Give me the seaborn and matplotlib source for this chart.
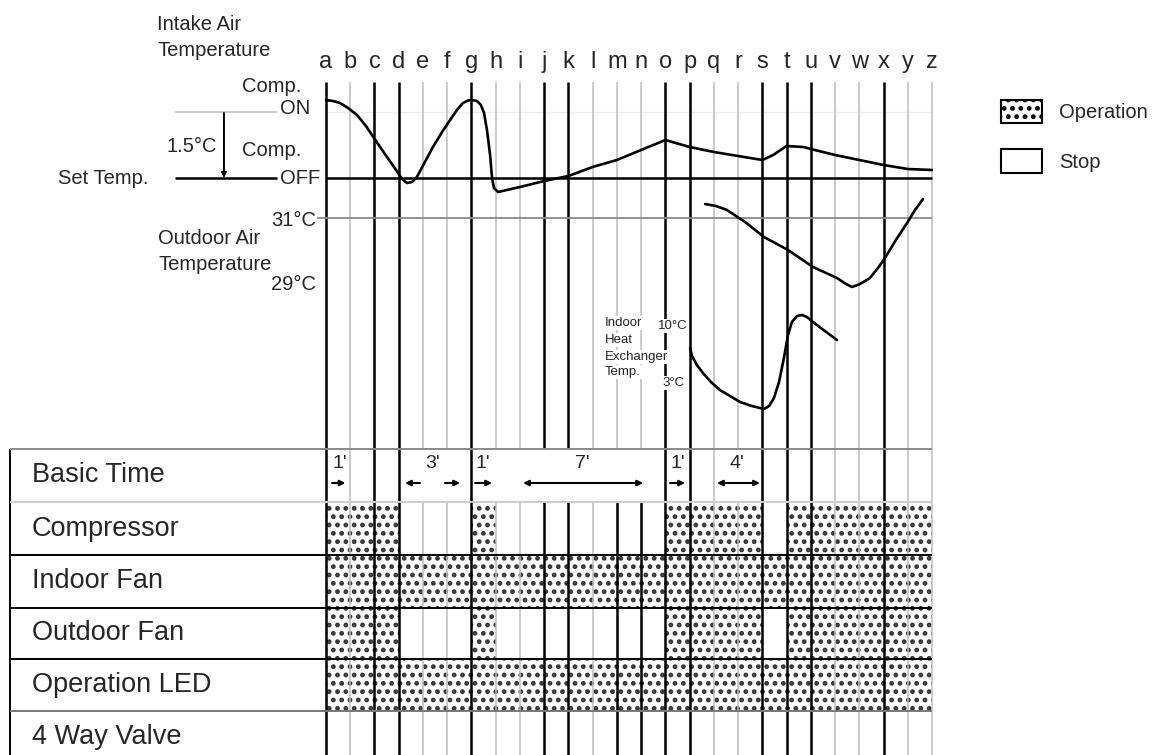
import numpy as np
import pandas as pd
import matplotlib.pyplot as plt
import seaborn as sns
from matplotlib.patches import Patch

# time steps a..z (one step per letter)
letters = list('abcdefghijklmnopqrstuvwxyz')
thick_top = ['a', 'c', 'd', 'g', 'j', 'k', 'o', 'p', 's', 't', 'u', 'x']
thick_table = thick_top + ['m', 'n']
basic_row_lines = ['a', 'b', 'c', 'd', 'g', 'o', 'p', 'q', 's', 't', 'u', 'v', 'w', 'x', 'y', 'z']

# curves: x in letter steps, y in chart level (top = 0, downwards)
intake_t = [0, 0.29, 0.58, 0.91, 1.28, 1.65, 1.98, 2.43, 2.89, 3.14, 3.34, 3.55, 3.75, 4.08,
            4.41, 4.79, 5.12, 5.40, 5.65, 5.86, 6.02, 6.23, 6.39, 6.52, 6.64, 6.77, 6.85, 6.93,
            7.1, 8, 9, 10, 11, 12, 13, 14, 15, 16, 17, 18, 18.45, 19, 19.7, 20, 21, 22, 23, 24, 25]
intake_level = [100, 101, 103, 108, 115, 126, 138, 154, 170, 179, 183, 182, 177, 162,
                147, 132, 120, 110, 103, 100.5, 100, 101, 105, 113, 130, 155, 178, 188,
                192, 187, 181, 176, 167, 160, 150, 140, 147, 152, 156, 160, 155, 146, 147, 149,
                155, 160, 165, 169, 170]
outdoor_t = [15.64, 16.09, 16.54, 17.29, 18.07, 19.06, 20.09, 21.08, 21.45, 21.7, 22.03,
             22.44, 22.77, 23.06, 23.51, 23.97, 24.30, 24.63]
outdoor_level = [204, 206, 210, 222, 237, 250, 267, 278, 284, 287, 284, 278, 268, 258, 240,
                 223, 210, 199]
hex_t = [15.02, 15.1, 15.3, 15.55, 15.88, 16.25, 16.67, 17.08, 17.57, 18.07, 18.28, 18.48,
         18.69, 18.89, 19.06, 19.22, 19.43, 19.64, 19.84, 20.09, 20.58, 21.08]
hex_level = [348, 356, 365, 373, 382, 390, 396, 402, 406, 409, 406, 398, 382, 358, 335, 322,
             316, 315, 317, 322, 331, 340]

# table rows and operation periods
rows = ['Basic Time', 'Compressor', 'Indoor Fan', 'Outdoor Fan', 'Operation LED', '4 Way Valve']
row_edges = [449, 502, 555, 608, 659, 711, 763]
compressor_on = [('a', 'd'), ('g', 'h'), ('o', 's'), ('t', 'z')]
indoor_fan_on = [('a', 'z')]
outdoor_fan_on = [('a', 'd'), ('g', 'h'), ('o', 's'), ('t', 'z')]
led_on = [('a', 'z')]
valve_on = []

basic_labels = ["1'", "3'", "1'", "7'", "1'", "4'"]
basic_label_t = [0.58, 4.41, 6.48, 10.56, 14.52, 16.96]

sns.set_style('white')
plt.rcParams['font.family'] = ['Liberation Sans', 'DejaVu Sans']
plt.rcParams['hatch.linewidth'] = 2.2

STEP = 24.24   # px per letter
X0 = 326
fig = plt.figure(figsize=(11.55, 7.55), dpi=100)
ax = fig.add_axes([0, 0, 1, 1])

pos = {L: i for i, L in enumerate(letters)}
light = '#bdbdbd'
HATCH = '..'

# operation hatching
for name, periods in zip(rows[1:], [compressor_on, indoor_fan_on, outdoor_fan_on, led_on, valve_on]):
    r = rows.index(name)
    spans = [(pos[s], pos[e] - pos[s]) for s, e in periods]
    if spans:
        ax.broken_barh(spans, (row_edges[r], row_edges[r + 1] - row_edges[r]),
                       facecolor='white', edgecolor='#333333', hatch=HATCH, linewidth=0, zorder=1)

# vertical time lines
for L in letters:
    x = pos[L]
    top_thick = L in thick_top
    ax.vlines(x, 82, row_edges[0], colors='black' if top_thick else light,
              linewidths=1.8 if top_thick else 1.1, zorder=3)
    tab_thick = L in thick_table
    if L in basic_row_lines:
        ax.vlines(x, row_edges[0], row_edges[1], colors='black' if tab_thick else light,
                  linewidths=1.8 if tab_thick else 1.1, zorder=3)
    ax.vlines(x, row_edges[1], 755, colors='black' if tab_thick else light,
              linewidths=1.8 if tab_thick else 1.1, zorder=3)
    ax.text(x, 62, L, ha='center', va='center', fontsize=17)

# table grid
left = -13.04
row_colors = ['#8a8a8a', '#cccccc', 'black', 'black', 'black', '#777777']
for y, c in zip(row_edges[:-1], row_colors):
    ax.hlines(y, left, 25, colors=c, linewidths=1.4, zorder=3)
ax.vlines(left, row_edges[0], 755, colors='black', linewidths=1.4)
for name, y0, y1 in zip(rows, row_edges[:-1], row_edges[1:]):
    ax.text(-12.13, (y0 + y1) / 2, name, ha='left', va='center', fontsize=19.5)

# reference levels
ax.hlines(112, -6.23, -2.02, colors='#c0c0c0', linewidths=1.2)
ax.hlines(112, 0, 25, colors='#ececec', linewidths=1.0)
ax.hlines(178, -6.23, -2.02, colors='black', linewidths=1.8)
ax.hlines(178, 0, 25, colors='black', linewidths=1.8, zorder=3)
ax.hlines(218, -0.37, 25, colors='#8a8a8a', linewidths=1.3, zorder=3)
ax.annotate('', xy=(-4.21, 178), xytext=(-4.21, 113),
            arrowprops=dict(arrowstyle='-|>', lw=1.4, color='black', mutation_scale=7,
                            shrinkA=0, shrinkB=0))

# curves
curves = pd.concat([
    pd.DataFrame({'t': intake_t, 'level': intake_level, 'curve': 'intake'}),
    pd.DataFrame({'t': outdoor_t, 'level': outdoor_level, 'curve': 'outdoor'}),
    pd.DataFrame({'t': hex_t, 'level': hex_level, 'curve': 'hex'}),
])
sns.lineplot(data=curves, x='t', y='level', units='curve', estimator=None, sort=False,
             color='black', linewidth=1.9, ax=ax, zorder=4)
ax.set_xlim(-X0 / STEP, (1155 - X0) / STEP)
ax.set_ylim(755, 0)
ax.axis('off')

# labels of the upper chart
fs = 14.5
ax.text(-6.97, 25, 'Intake Air', fontsize=fs, va='center')
ax.text(-6.97, 50, 'Temperature', fontsize=fs, va='center')
ax.text(-3.47, 87, 'Comp.', fontsize=fs, va='center')
ax.text(-1.90, 108, 'ON', fontsize=fs, va='center')
ax.text(-6.60, 147, '1.5°C', fontsize=fs, va='center')
ax.text(-3.47, 150, 'Comp.', fontsize=fs, va='center')
ax.text(-11.06, 178, 'Set Temp.', fontsize=fs, va='center')
ax.text(-1.90, 178, 'OFF', fontsize=fs, va='center')
ax.text(-0.41, 220, '31°C', fontsize=fs, va='center', ha='right')
ax.text(-6.93, 238, 'Outdoor Air', fontsize=fs, va='center')
ax.text(-6.93, 265, 'Temperature', fontsize=fs, va='center')
ax.text(-0.41, 285, '29°C', fontsize=fs, va='center', ha='right')

wb = dict(facecolor='white', edgecolor='none', pad=1)
for txt, y in zip(['Indoor', 'Heat', 'Exchanger', 'Temp.'], [323, 340, 357, 372]):
    ax.text(11.51, y, txt, fontsize=9.5, va='center', ha='left', bbox=wb, zorder=5)
ax.text(14.3, 326, '10°C', fontsize=9.5, va='center', ha='center', bbox=wb, zorder=5)
ax.text(14.35, 383, '3°C', fontsize=9.5, va='center', ha='center', bbox=wb, zorder=5)

# basic time marks
for lab, t in zip(basic_labels, basic_label_t):
    ax.text(t, 463, lab, fontsize=14, ha='center', va='center')
arrows = [((0.25, 0.8), '-|>'), ((3.88, 3.26), '-|>'), ((4.91, 5.53), '-|>'),
          ((6.15, 6.85), '-|>'), ((8.13, 13.08), '<|-|>'), ((14.19, 14.81), '-|>'),
          ((16.13, 17.9), '<|-|>')]
for (a, b), style in arrows:
    ax.annotate('', xy=(b, 483), xytext=(a, 483),
                arrowprops=dict(arrowstyle=style, lw=1.5, color='black', mutation_scale=8,
                                shrinkA=0, shrinkB=0))

# legend
handles = [Patch(facecolor='white', edgecolor='black', hatch=HATCH, linewidth=1.5, label='Operation'),
           Patch(facecolor='white', edgecolor='black', linewidth=1.5, label='Stop')]
ax.legend(handles=handles, loc='upper left', bbox_to_anchor=(1001 / 1155, 1 - 100 / 755),
          frameon=False, fontsize=14.5, handlelength=2.04, handleheight=1.4,
          handletextpad=0.85, labelspacing=1.3, borderpad=0, borderaxespad=0)

fig.savefig('out.png', dpi=100)
